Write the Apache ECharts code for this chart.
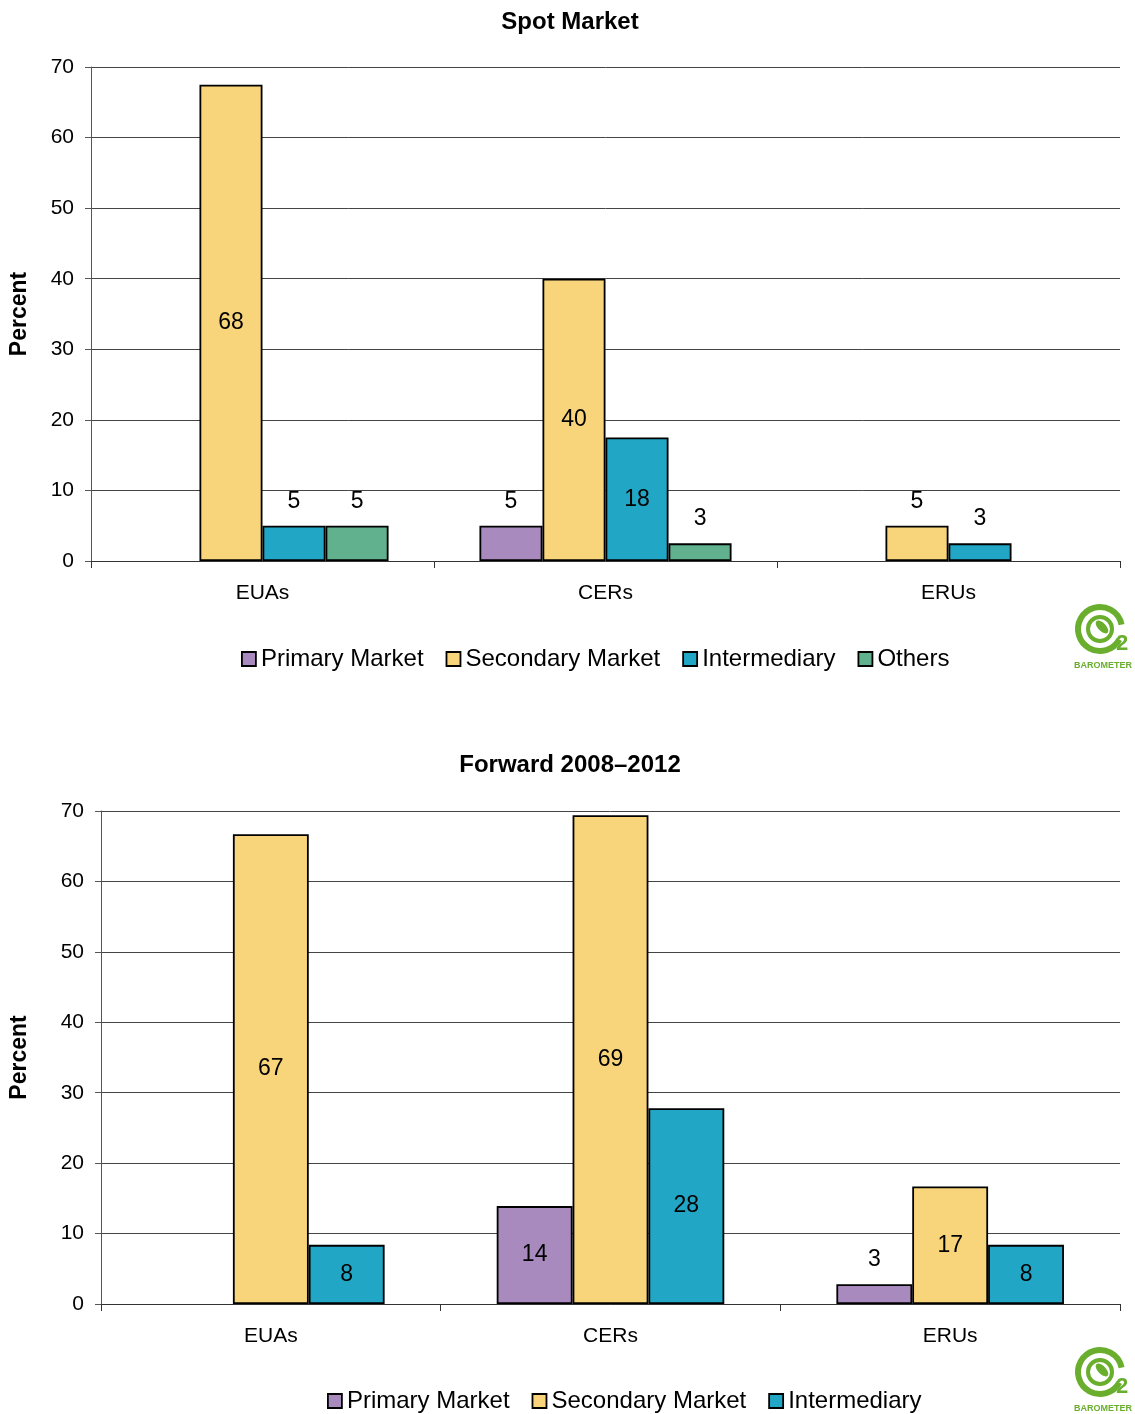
<!DOCTYPE html>
<html><head><meta charset="utf-8">
<script src="https://cdn.jsdelivr.net/npm/echarts@6/dist/echarts.min.js"></script>
<style>html,body{margin:0;padding:0;background:#fff}#c{width:1135px;height:1414px}</style>
</head><body><div id="c"></div>
<script>
const categories = ['EUAs', 'CERs', 'ERUs'];
const yTicks = [0, 10, 20, 30, 40, 50, 60, 70];
// Spot Market
const spotPrimary = [null, 5, null];
const spotSecondary = [67.5, 40, 5];
const spotIntermediary = [5, 17.5, 2.5];
const spotOthers = [5, 2.5, null];
// Forward 2008–2012
const fwdPrimary = [null, 13.9, 2.8];
const fwdSecondary = [66.7, 69.4, 16.7];
const fwdIntermediary = [8.4, 27.8, 8.4];

const colors = {
  'Primary Market': '#A98ABE',
  'Secondary Market': '#F8D57B',
  'Intermediary': '#21A7C5',
  'Others': '#61B18F'
};
const FONT = '"Liberation Sans", Arial, sans-serif';

function mkSeries(name, data, idx) {
  return {
    name, type: 'bar', xAxisIndex: idx, yAxisIndex: idx,
    barGap: '0%', barCategoryGap: idx === 0 ? '26.5%' : '33%',
    itemStyle: { color: colors[name], borderColor: '#000', borderWidth: 1.8 },
    emphasis: { disabled: true },
    data: data.map(v => v == null ? null : {
      value: v,
      label: {
        show: true,
        position: v < 6 ? 'top' : 'inside',
        distance: 13,
        formatter: p => Math.round(p.value),
        color: '#000', fontSize: 23, fontFamily: FONT
      }
    })
  };
}

function xAx(idx) {
  return {
    type: 'category', gridIndex: idx, data: categories,
    axisLine: { lineStyle: { color: '#333', width: 1 } },
    axisTick: { show: true, length: 7, lineStyle: { color: '#333' } },
    axisLabel: { color: '#000', fontSize: 21, fontFamily: FONT, margin: 22 }
  };
}
function yAx(idx) {
  return {
    type: 'value', gridIndex: idx, min: 0, max: 70, interval: 10,
    name: 'Percent', nameLocation: 'middle', nameGap: idx === 0 ? 60 : 70,
    nameTextStyle: { color: '#000', fontSize: 23, fontWeight: 'bold', fontFamily: FONT },
    axisLine: { show: true, lineStyle: { color: '#555', width: 1 } },
    axisTick: { show: true, length: 6, lineStyle: { color: '#555' } },
    axisLabel: { color: '#000', fontSize: 21, fontFamily: FONT, margin: 17,
      formatter: v => yTicks.includes(v) ? String(v) : '' },
    splitLine: { show: true, lineStyle: { color: '#444', width: 1 } }
  };
}

function logo(x, y) {
  const g = '#6AAE2E';
  return {
    type: 'group', left: x, top: y, children: [
      { type: 'arc', shape: { cx: 26, cy: 26, r: 22, startAngle: 0.5, endAngle: 2 * Math.PI - 0.2 },
        style: { stroke: g, lineWidth: 6, fill: null } },
      { type: 'circle', shape: { cx: 26, cy: 26, r: 12 }, style: { stroke: g, lineWidth: 4, fill: null } },
      { type: 'ellipse', shape: { cx: 28, cy: 24, rx: 8, ry: 4 }, rotation: -0.8, originX: 28, originY: 24,
        style: { fill: g } },
      { type: 'text', left: 42, top: 30, style: { text: '2', fill: g, font: 'bold 22px ' + FONT } },
      { type: 'text', left: 0, top: 58, style: { text: 'BAROMETER', fill: g, font: 'bold 9px ' + FONT } }
    ]
  };
}

const legendBase = {
  itemWidth: 14, itemHeight: 14, itemGap: 22, icon: 'rect',
  itemStyle: { borderColor: '#000', borderWidth: 1.8 },
  textStyle: { fontSize: 24, color: '#000', fontFamily: FONT }
};

const chart = echarts.init(document.getElementById('c'));
chart.setOption({
  animation: false,
  title: [
    { text: 'Spot Market', left: 565, top: 5, textAlign: 'center',
      textStyle: { fontSize: 24, fontWeight: 'bold', color: '#000', fontFamily: FONT } },
    { text: 'Forward 2008–2012', left: 565, top: 748, textAlign: 'center',
      textStyle: { fontSize: 24, fontWeight: 'bold', color: '#000', fontFamily: FONT } }
  ],
  legend: [
    Object.assign({ data: ['Primary Market', 'Secondary Market', 'Intermediary', 'Others'], left: 236, top: 642 }, legendBase),
    Object.assign({ data: ['Primary Market', 'Secondary Market', 'Intermediary'], left: 322, top: 1384 }, legendBase)
  ],
  grid: [
    { left: 90, right: 15, top: 67, height: 494 },
    { left: 100, right: 15, top: 811, height: 493 }
  ],
  xAxis: [xAx(0), xAx(1)],
  yAxis: [yAx(0), yAx(1)],
  series: [
    mkSeries('Primary Market', spotPrimary, 0),
    mkSeries('Secondary Market', spotSecondary, 0),
    mkSeries('Intermediary', spotIntermediary, 0),
    mkSeries('Others', spotOthers, 0),
    mkSeries('Primary Market', fwdPrimary, 1),
    mkSeries('Secondary Market', fwdSecondary, 1),
    mkSeries('Intermediary', fwdIntermediary, 1)
  ],
  graphic: [logo(1074, 604), logo(1074, 1347)]
});
</script></body></html>
